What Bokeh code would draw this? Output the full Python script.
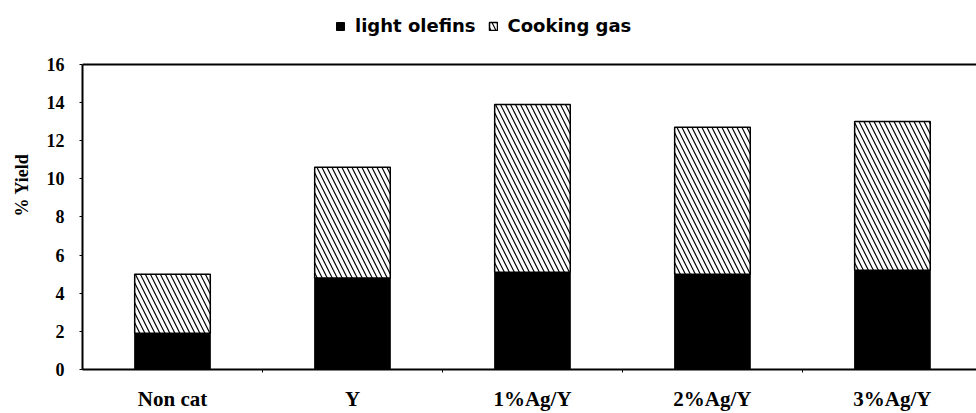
from bokeh.plotting import figure
from bokeh.models import (Range1d, FixedTicker, Legend, LegendItem, Span,
                          ColumnDataSource)
from bokeh.embed import file_html
from bokeh.resources import INLINE

categories = ["Non cat", "Y", "1%Ag/Y", "2%Ag/Y", "3%Ag/Y"]
light_olefins = [1.9, 4.8, 5.1, 5.0, 5.2]
cooking_gas = [3.1, 5.8, 8.8, 7.7, 7.8]
y_ticks = [0, 2, 4, 6, 8, 10, 12, 14, 16]

xs = [i + 0.5 for i in range(len(categories))]
tops = [a + b for a, b in zip(light_olefins, cooking_gas)]
src = ColumnDataSource(dict(x=xs, lo=light_olefins, top=tops, zero=[0] * len(xs)))

p = figure(width=976, height=413, output_backend="svg", toolbar_location=None,
           x_range=Range1d(0, 4.967), y_range=Range1d(0, 19.35),
           min_border_left=82, min_border_right=0, min_border_top=0, min_border_bottom=43)

r1 = p.vbar(x="x", bottom="zero", top="lo", width=0.42, source=src,
            fill_color="black", line_color="black", line_width=1)
r2 = p.vbar(x="x", bottom="lo", top="top", width=0.42, source=src,
            fill_color="white", line_color="black", line_width=1.5,
            hatch_pattern="\\", hatch_color="black", hatch_scale=10, hatch_weight=1.2)

p.xgrid.visible = False
p.ygrid.visible = False
p.outline_line_color = None
p.background_fill_color = "white"
p.border_fill_color = "white"

p.add_layout(Span(location=y_ticks[-1], dimension="width", line_color="black", line_width=2))

# y axis
p.yaxis.ticker = FixedTicker(ticks=y_ticks)
p.yaxis.bounds = (y_ticks[0], y_ticks[-1])
p.yaxis.axis_line_width = 2
p.yaxis.axis_line_color = "black"
p.yaxis.major_tick_in = 0
p.yaxis.major_tick_out = 3
p.yaxis.minor_tick_line_color = None
p.yaxis.major_label_text_font = "Liberation Serif"
p.yaxis.major_label_text_font_style = "bold"
p.yaxis.major_label_text_font_size = "18px"
p.yaxis.major_label_text_color = "black"
p.yaxis.major_label_standoff = 15
p.yaxis.axis_label = "% Yield"
p.yaxis.axis_label_text_font = "Liberation Serif"
p.yaxis.axis_label_text_font_style = "bold"
p.yaxis.axis_label_text_font_size = "18px"
p.yaxis.axis_label_text_color = "black"
p.yaxis.axis_label_standoff = 12

# x axis
p.xaxis.ticker = FixedTicker(ticks=xs, minor_ticks=[1, 2, 3, 4])
p.xaxis.major_label_overrides = {x: c for x, c in zip(xs, categories)}
p.xaxis.axis_line_width = 2
p.xaxis.axis_line_color = "black"
p.xaxis.major_tick_line_color = None
p.xaxis.minor_tick_in = 0
p.xaxis.minor_tick_out = 3
p.xaxis.minor_tick_line_color = "black"
p.xaxis.major_label_text_font = "Liberation Serif"
p.xaxis.major_label_text_font_style = "bold"
p.xaxis.major_label_text_font_size = "21px"
p.xaxis.major_label_text_color = "black"
p.xaxis.major_label_standoff = 11

legend = Legend(items=[LegendItem(label="light olefins", renderers=[r1]),
                       LegendItem(label="Cooking gas", renderers=[r2])],
                orientation="horizontal", location=(253, 333),
                label_text_font="DejaVu Sans", label_text_font_style="bold",
                label_text_font_size="18px", label_text_color="black",
                glyph_width=10, glyph_height=10, spacing=12, label_standoff=10,
                border_line_color=None, background_fill_alpha=0,
                padding=2, margin=0)
p.add_layout(legend, "center")

open("out.html", "w").write(file_html(p, INLINE))
